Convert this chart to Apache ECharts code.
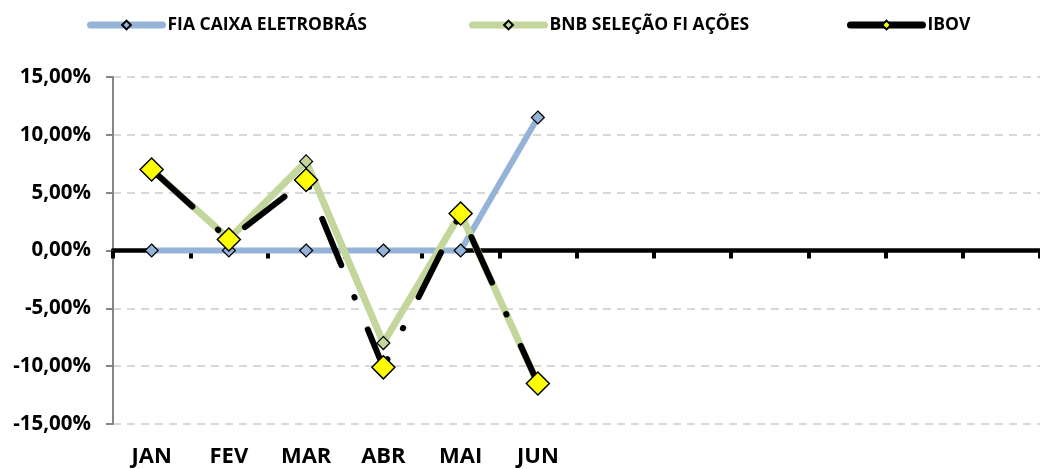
<!DOCTYPE html>
<html>
<head>
<meta charset="utf-8">
<script src="https://cdn.jsdelivr.net/npm/echarts@6/dist/echarts.min.js"></script>
<style>
  html, body { margin: 0; padding: 0; background: #fff; }
  #chart { width: 1040px; height: 469px; }
</style>
</head>
<body>
<div id="chart"></div>
<script>
// Monthly returns (%) — only the first half of the year is filled in
const months = ['JAN', 'FEV', 'MAR', 'ABR', 'MAI', 'JUN', '', '', '', '', '', ''];
const fiaCaixa = [0, 0, 0, 0, 0, 11.5];
const bnbSelecao = [7.0, 1.0, 7.7, -8.0, 3.2, -11.5];
const ibov = [7.0, 0.95, 6.1, -10.1, 3.2, -11.5];
const yTicks = { min: -15, max: 15, step: 5 };

const FONT = '"Open Sans", "Liberation Sans", sans-serif';

const pct = v => v.toFixed(2).replace('.', ',') + '%';

const legendText = { fontFamily: FONT, fontWeight: 'bold', fontSize: 17.5, color: '#000' };
const legendBase = {
  top: 11,
  itemWidth: 72,
  itemHeight: 11,
  itemGap: 6,
  textStyle: legendText,
  lineStyle: { type: 'solid', width: 7, cap: 'round' }
};

const chart = echarts.init(document.getElementById('chart'), null, { renderer: 'canvas' });

chart.setOption({
  animation: false,
  backgroundColor: '#fff',
  legend: [
    Object.assign({}, legendBase, { left: 82, data: ['FIA CAIXA ELETROBRÁS'] }),
    Object.assign({}, legendBase, { left: 464, data: ['BNB SELEÇÃO FI AÇÕES'] }),
    Object.assign({}, legendBase, { left: 842, data: ['IBOV'] })
  ],
  grid: { left: 113, right: 0, top: 77, bottom: 45, containLabel: false, outerBoundsMode: 'none' },
  xAxis: [
    {
      // zero line with month ticks
      type: 'category',
      data: months,
      boundaryGap: true,
      axisLine: { onZero: true, lineStyle: { color: '#000', width: 4.5 } },
      axisTick: { show: true, interval: 0, length: 8, lineStyle: { color: '#000', width: 4 } },
      axisLabel: { show: false },
      splitLine: { show: false }
    },
    {
      // month names along the bottom edge
      type: 'category',
      data: months,
      position: 'bottom',
      boundaryGap: true,
      axisLine: { show: false, onZero: false },
      axisTick: { show: false },
      axisLabel: {
        interval: 0,
        margin: 22,
        fontFamily: FONT,
        fontWeight: 'bold',
        fontSize: 22,
        color: '#000'
      },
      splitLine: { show: false }
    }
  ],
  yAxis: {
    type: 'value',
    min: yTicks.min,
    max: yTicks.max,
    interval: yTicks.step,
    axisLine: { show: true, lineStyle: { color: '#868686', width: 2 } },
    axisTick: { show: true, length: 7, lineStyle: { color: '#868686', width: 2 } },
    axisLabel: {
      margin: 22,
      formatter: pct,
      fontFamily: FONT,
      fontWeight: 'bold',
      fontSize: 20.5,
      color: '#000'
    },
    splitLine: { show: true, lineStyle: { color: '#D9D9D9', width: 2, type: [8, 6] } }
  },
  series: [
    {
      name: 'FIA CAIXA ELETROBRÁS',
      type: 'line',
      data: fiaCaixa,
      symbol: 'diamond',
      symbolSize: 13,
      lineStyle: { color: '#95B3D7', width: 6, cap: 'round' },
      itemStyle: { color: '#95B3D7', borderColor: '#000', borderWidth: 1.2 }
    },
    {
      name: 'BNB SELEÇÃO FI AÇÕES',
      type: 'line',
      data: bnbSelecao,
      symbol: 'diamond',
      symbolSize: 13,
      lineStyle: { color: '#C3D69B', width: 7, cap: 'round', join: 'round' },
      itemStyle: { color: '#C3D69B', borderColor: '#000', borderWidth: 1.2 }
    },
    {
      name: 'IBOV',
      type: 'line',
      data: ibov,
      symbol: 'diamond',
      symbolSize: 23,
      lineStyle: {
        color: '#000',
        width: 6,
        cap: 'round',
        type: [50, 34.5, 0.5, 34.5],
        dashOffset: 114.5
      },
      itemStyle: { color: '#FFFF00', borderColor: '#000', borderWidth: 1.5 }
    }
  ]
});
</script>
</body>
</html>
